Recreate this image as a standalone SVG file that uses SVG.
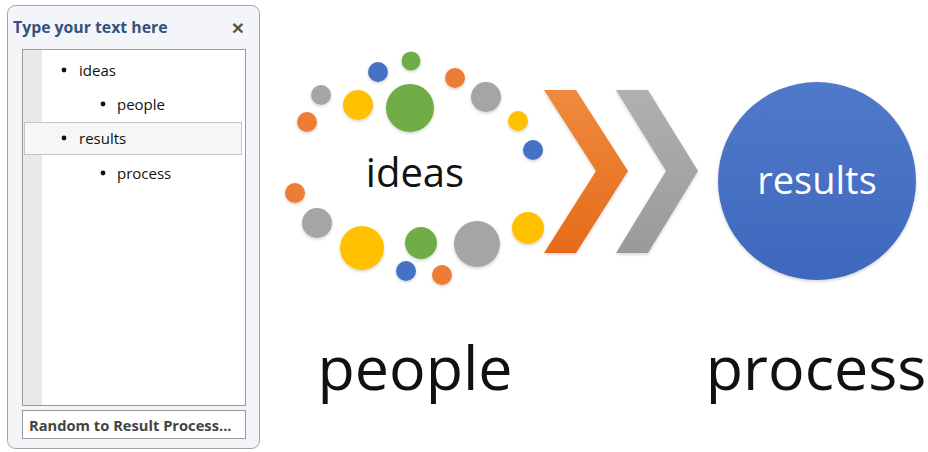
<svg xmlns="http://www.w3.org/2000/svg" width="928" height="452" viewBox="0 0 928 452">
<style>
.pt{font-family:"Open Sans","Liberation Sans",sans-serif;fill:#111}
.list{font-size:15px}
.big{font-size:61px}
.mid{font-size:40px}
.dot{fill:#111}
</style>
<defs>
<linearGradient id="gOr" x1="0" y1="0" x2="0" y2="1"><stop offset="0" stop-color="#f08a3e"/><stop offset="1" stop-color="#e56b1a"/></linearGradient>
<linearGradient id="gGr" x1="0" y1="0" x2="0" y2="1"><stop offset="0" stop-color="#b0b0b0"/><stop offset="1" stop-color="#9a9a9a"/></linearGradient>
<linearGradient id="gBl" x1="0" y1="0" x2="0" y2="1"><stop offset="0" stop-color="#5079c9"/><stop offset="1" stop-color="#3e68bd"/></linearGradient>
<filter id="sh" x="-30%" y="-30%" width="160%" height="160%"><feDropShadow dx="0" dy="1.5" stdDeviation="1.5" flood-color="#000" flood-opacity="0.18"/></filter>
</defs>
<rect width="928" height="452" fill="#fff"/>

<g id="textpane">
<rect x="7.5" y="5.5" width="252" height="443" rx="8" fill="#f3f5f8" stroke="#9ea2a8"/>
<text x="13" y="33" font-family="Open Sans, Liberation Sans, sans-serif" font-size="15.8" font-weight="bold" fill="#34527f">Type your text here</text>
<text x="238" y="35" font-family="Liberation Sans, sans-serif" font-size="21" font-weight="bold" fill="#555" text-anchor="middle">×</text>
<rect x="22.5" y="49.5" width="223" height="356" fill="#fff" stroke="#9a9a9a"/>
<rect x="23" y="50" width="19" height="355" fill="#e9e9e9"/>
<rect x="24.5" y="122.5" width="217" height="32" fill="#f7f7f7" stroke="#c4c4c4"/>
<circle class="dot" cx="64" cy="70" r="2.4"/>
<text class="pt list" x="79" y="76">ideas</text>
<circle class="dot" cx="103" cy="104" r="2.4"/>
<text class="pt list" x="117" y="110">people</text>
<circle class="dot" cx="64" cy="138" r="2.4"/>
<text class="pt list" x="79" y="144">results</text>
<circle class="dot" cx="103" cy="173" r="2.4"/>
<text class="pt list" x="117" y="179">process</text>
<rect x="22.5" y="410.5" width="223" height="28" fill="#fff" stroke="#9a9a9a"/>
<text x="29" y="431" font-family="Open Sans, Liberation Sans, sans-serif" font-size="14.7" font-weight="bold" fill="#444">Random to Result Process...</text>
</g>

<g id="ideas" filter="url(#sh)">
<circle cx="411" cy="61" r="9.5" fill="#70ad47"/>
<circle cx="378" cy="72" r="10" fill="#4472c4"/>
<circle cx="455" cy="78" r="10" fill="#ed7d31"/>
<circle cx="321" cy="95" r="10" fill="#a5a5a5"/>
<circle cx="358" cy="105" r="15" fill="#ffc000"/>
<circle cx="410" cy="108" r="24" fill="#70ad47"/>
<circle cx="486" cy="97" r="15" fill="#a5a5a5"/>
<circle cx="307" cy="122" r="10" fill="#ed7d31"/>
<circle cx="518" cy="121" r="10" fill="#ffc000"/>
<circle cx="533" cy="150" r="10" fill="#4472c4"/>
<circle cx="295" cy="193" r="10" fill="#ed7d31"/>
<circle cx="317" cy="223" r="15" fill="#a5a5a5"/>
<circle cx="362" cy="248" r="22" fill="#ffc000"/>
<circle cx="421" cy="243" r="16" fill="#70ad47"/>
<circle cx="477" cy="244" r="23" fill="#a5a5a5"/>
<circle cx="528" cy="228" r="16" fill="#ffc000"/>
<circle cx="406" cy="271" r="10" fill="#4472c4"/>
<circle cx="442" cy="275" r="10" fill="#ed7d31"/>
</g>
<text class="pt mid" x="415" y="187" text-anchor="middle">ideas</text>

<g id="chevrons">
<path d="M544 90 L576 90 L628 171 L576 253 L544 253 L596 171 Z" fill="url(#gOr)" filter="url(#sh)"/>
<path d="M616 90 L648 90 L698 171 L648 253 L616 253 L666 171 Z" fill="url(#gGr)" filter="url(#sh)"/>
</g>

<g id="results">
<circle cx="817" cy="181" r="99" fill="url(#gBl)" filter="url(#sh)"/>
<text x="817" y="194" font-family="Open Sans, Liberation Sans, sans-serif" font-size="38" fill="#fff" text-anchor="middle">results</text>
</g>

<g id="labels">
<text class="pt big" x="415" y="390" text-anchor="middle">people</text>
<text class="pt big" x="816" y="390" text-anchor="middle">process</text>
</g>
</svg>
